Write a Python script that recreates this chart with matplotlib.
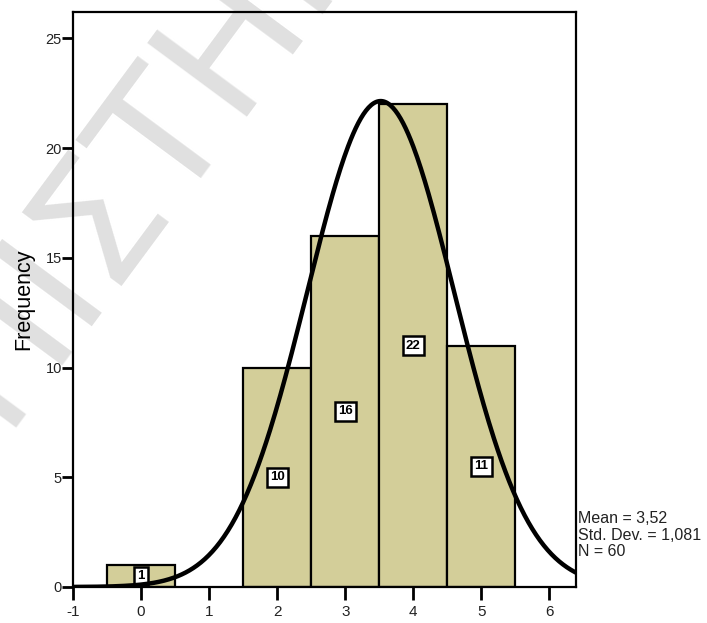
import numpy as np
import matplotlib
matplotlib.use("Agg")
import matplotlib.pyplot as plt

plt.rcParams['font.family'] = ['Liberation Sans', 'DejaVu Sans']
plt.rcParams['axes.unicode_minus'] = False

# histogram data (bin centres and counts)
centres = [0, 1, 2, 3, 4, 5]
counts = [1, 0, 10, 16, 22, 11]
mean, sd, n = 3.52, 1.081, 60
xticks = [-1, 0, 1, 2, 3, 4, 5, 6]
yticks = [0, 5, 10, 15, 20, 25]

fig = plt.figure(figsize=(7.07, 6.23), dpi=100)
ax = fig.add_axes([0.1033, 0.0578, 0.7114, 0.9229])
ax.set_facecolor('none')

# faint watermark behind everything
fig.text(0.225, 0.785, 'ΠΙΣΤΗΜ', fontsize=122, color='#e0e0e0', rotation=53.5,
         ha='center', va='center', zorder=-10, family='DejaVu Sans')

bar_c = [c for c, k in zip(centres, counts) if k > 0]
bar_k = [k for k in counts if k > 0]
ax.bar(bar_c, bar_k, width=1.0, color='#d3ce99', edgecolor='black', lw=1.6, zorder=2)

for c, k in zip(bar_c, bar_k):
    ax.text(c, k / 2, str(k), ha='center', va='center', fontsize=9.5, fontweight='bold',
            zorder=3, bbox=dict(boxstyle='square,pad=0.25', fc='white', ec='black', lw=1.8))

x = np.linspace(-1, 6.5, 400)
y = n * 1.0 / (sd * np.sqrt(2 * np.pi)) * np.exp(-0.5 * ((x - mean) / sd) ** 2)
ax.plot(x, y, color='black', lw=3.2, zorder=4, solid_capstyle='butt')

ax.set_xlim(-1, 6.39)
ax.set_ylim(0, 26.2)
ax.set_xticks(xticks)
ax.set_yticks(yticks)
for s in ax.spines.values():
    s.set_linewidth(1.6)
ax.tick_params(axis='x', length=9, width=2, labelsize=11, labelcolor='#222222', pad=4)
ax.tick_params(axis='y', length=8, width=2, labelsize=10.5, labelcolor='#222222', pad=0)
ax.set_ylabel('Frequency', fontsize=15.5, labelpad=8)

fig.text(0.817, 0.141, 'Mean = 3,52\nStd. Dev. = 1,081\nN = 60', fontsize=11.5,
         color='#222222', ha='left', va='center', linespacing=1.12)

fig.savefig('out.png', dpi=100)
